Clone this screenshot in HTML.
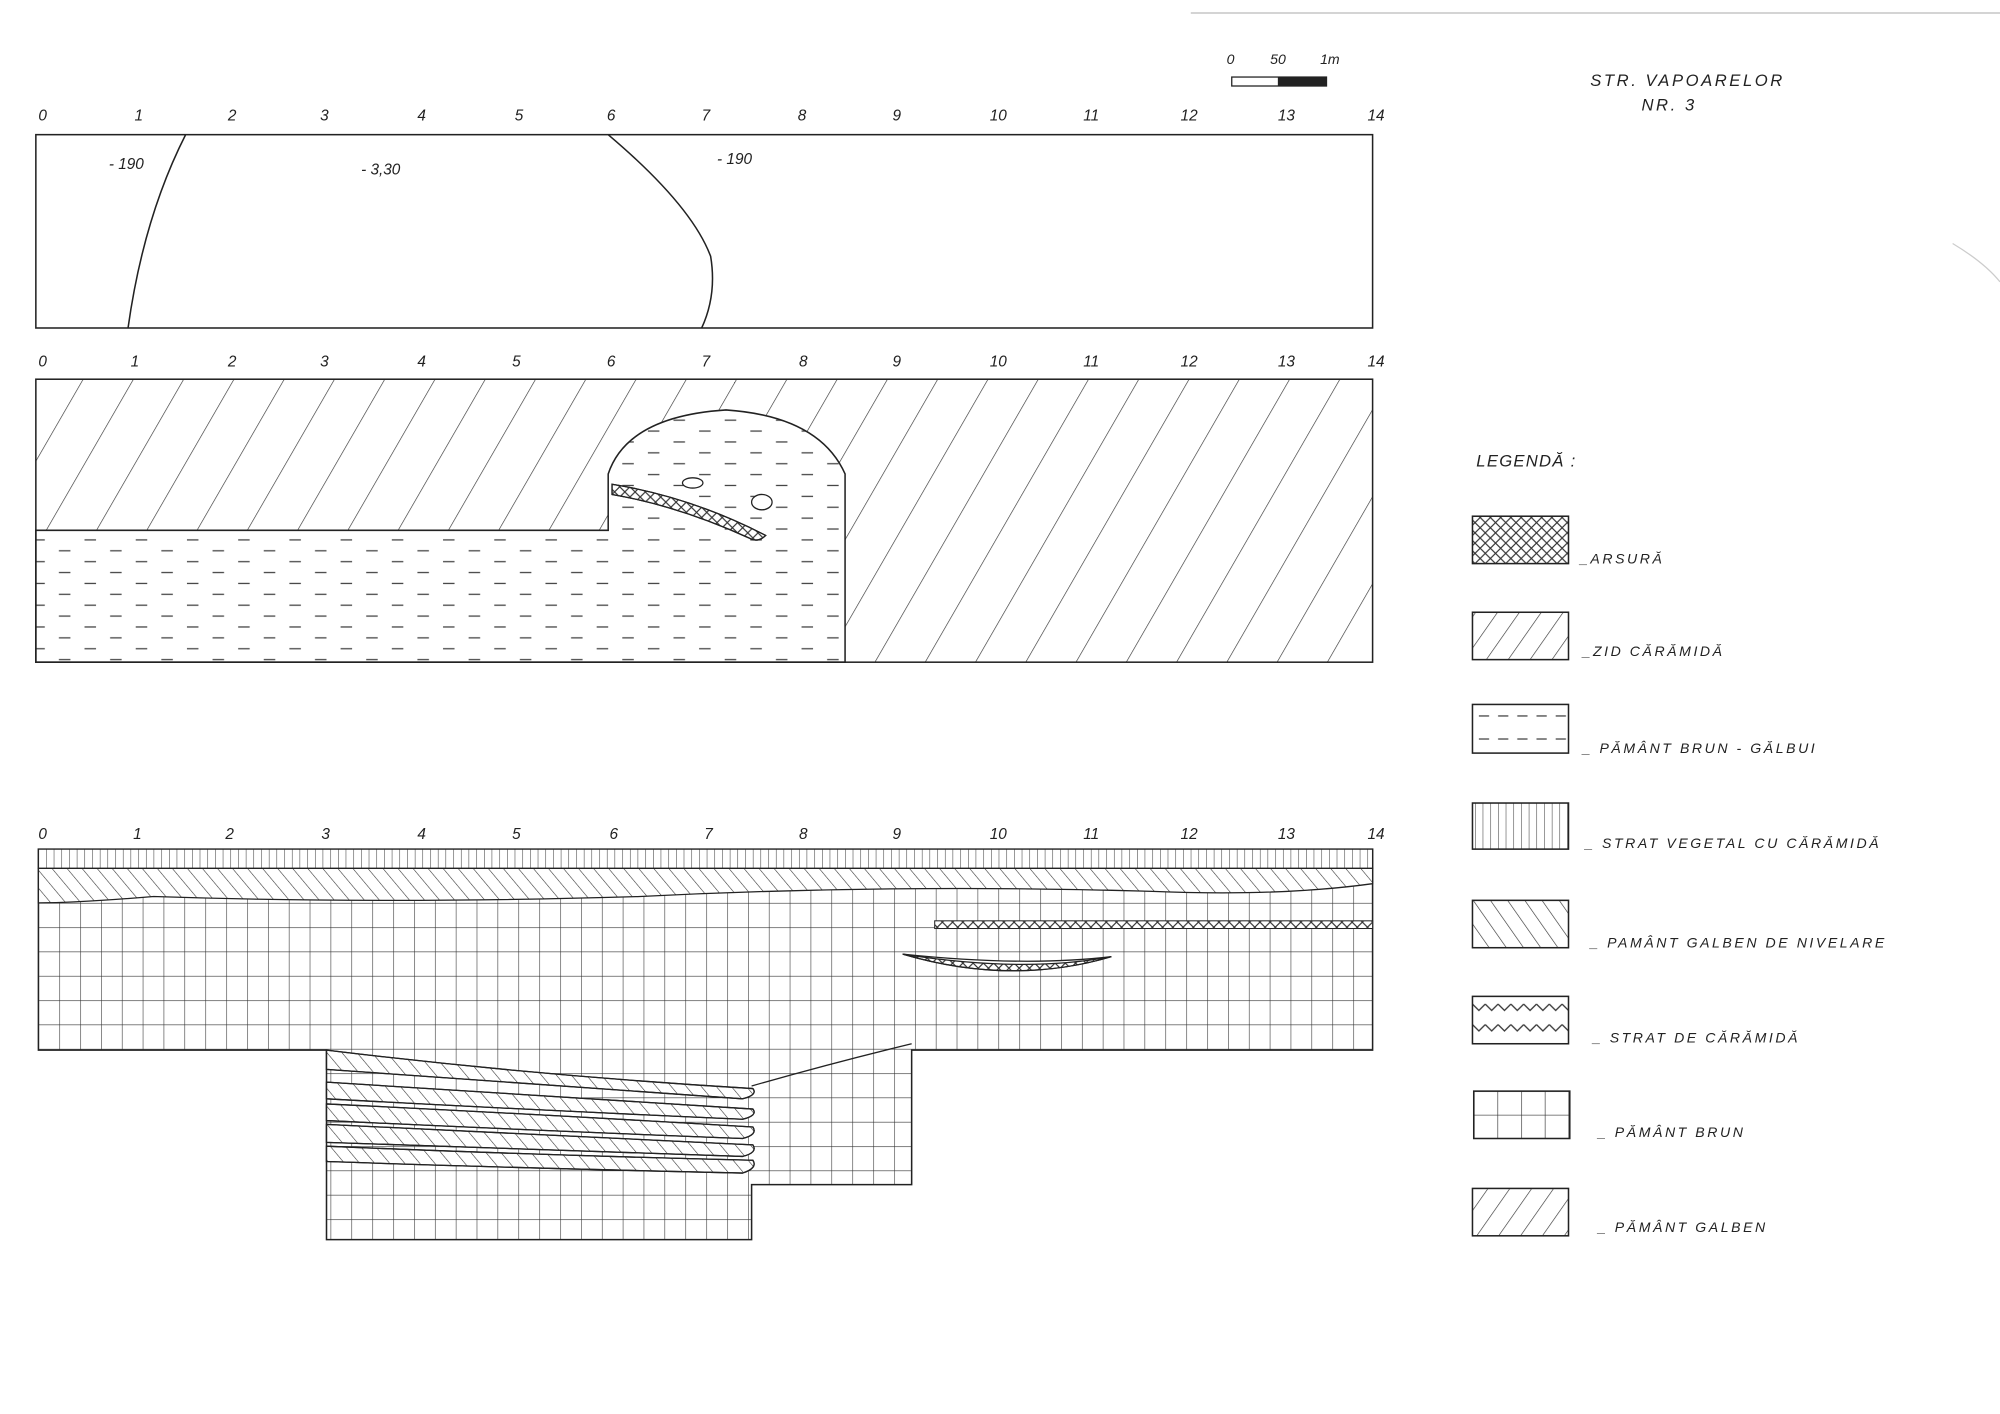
<!DOCTYPE html>
<html><head><meta charset="utf-8"><style>
html,body{margin:0;padding:0;background:#fff;}
svg{display:block}
text{font-family:"Liberation Sans",sans-serif;font-style:italic;fill:#222;}
</style></head><body>
<svg width="2000" height="1414" viewBox="0 0 1562 1104" xmlns="http://www.w3.org/2000/svg">
<defs>
<pattern id="fw" width="34" height="34" patternUnits="userSpaceOnUse" patternTransform="rotate(30)">
<line x1="0" y1="0" x2="0" y2="34" stroke="#333" stroke-width="1"/></pattern>
<pattern id="bw" width="9" height="9" patternUnits="userSpaceOnUse" patternTransform="rotate(-40)">
<line x1="0" y1="0" x2="0" y2="9" stroke="#333" stroke-width="0.9"/></pattern>
<pattern id="dash" width="40" height="17" patternUnits="userSpaceOnUse">
<line x1="6" y1="5" x2="15" y2="5" stroke="#444" stroke-width="1"/>
<line x1="26" y1="13.5" x2="35" y2="13.5" stroke="#444" stroke-width="1"/></pattern>
<pattern id="grid" width="16.3" height="19" patternUnits="userSpaceOnUse" x="30" y="705">
<path d="M0 0H16.3M0 0V19" stroke="#333" stroke-width="0.9" fill="none"/></pattern>
<pattern id="vert" width="6" height="20" patternUnits="userSpaceOnUse">
<line x1="0" y1="0" x2="0" y2="20" stroke="#333" stroke-width="0.8"/></pattern>
<pattern id="cross" width="8" height="8" patternUnits="userSpaceOnUse">
<path d="M0 0L8 8M8 0L0 8" stroke="#333" stroke-width="0.9"/></pattern>
<pattern id="zig" width="10" height="12" patternUnits="userSpaceOnUse">
<path d="M0 4L5 8L10 4" stroke="#333" fill="none" stroke-width="0.9"/></pattern>
<pattern id="lfw" width="14" height="14" patternUnits="userSpaceOnUse" patternTransform="rotate(35)">
<line x1="0" y1="0" x2="0" y2="14" stroke="#333" stroke-width="1"/></pattern>
<pattern id="lbw" width="11" height="11" patternUnits="userSpaceOnUse" patternTransform="rotate(-35)">
<line x1="0" y1="0" x2="0" y2="11" stroke="#333" stroke-width="1"/></pattern>
<pattern id="lgrid" width="18.5" height="18.5" patternUnits="userSpaceOnUse" x="1151" y="852">
<path d="M0 0H18.5M0 0V18.5" stroke="#333" fill="none"/></pattern>
<pattern id="ldash" width="30" height="18" patternUnits="userSpaceOnUse" x="1150" y="550">
<line x1="5" y1="9" x2="13" y2="9" stroke="#444"/><line x1="20" y1="9" x2="28" y2="9" stroke="#444"/></pattern>
<pattern id="lzig" width="10" height="16" patternUnits="userSpaceOnUse" x="1150" y="778">
<path d="M0 6L5 11L10 6" stroke="#333" fill="none"/></pattern>
</defs>

<line x1="930" y1="10" x2="1562" y2="10" stroke="#bbb" stroke-width="1"/>
<path d="M1525 190 Q1550 205 1562 220" stroke="#ccc" fill="none"/>

<!-- scale -->
<text x="958" y="50" font-size="11">0</text><text x="992" y="50" font-size="11">50</text><text x="1031" y="50" font-size="11">1m</text>
<rect x="962" y="60" width="74" height="7" fill="none" stroke="#222"/>
<rect x="998" y="60" width="38" height="7" fill="#222"/>
<text x="1242" y="67" font-size="13" letter-spacing="2">STR. VAPOARELOR</text>
<text x="1282" y="86" font-size="13" letter-spacing="2">NR. 3</text>

<!-- numbers -->
<g font-size="12">
<g transform="translate(0,94)">
<text x="30" y="0">0</text><text x="105" y="0">1</text><text x="178" y="0">2</text><text x="250" y="0">3</text><text x="326" y="0">4</text><text x="402" y="0">5</text><text x="474" y="0">6</text><text x="548" y="0">7</text><text x="623" y="0">8</text><text x="697" y="0">9</text><text x="773" y="0">10</text><text x="846" y="0">11</text><text x="922" y="0">12</text><text x="998" y="0">13</text><text x="1068" y="0">14</text></g>
<g transform="translate(0,286)">
<text x="30" y="0">0</text><text x="102" y="0">1</text><text x="178" y="0">2</text><text x="250" y="0">3</text><text x="326" y="0">4</text><text x="400" y="0">5</text><text x="474" y="0">6</text><text x="548" y="0">7</text><text x="624" y="0">8</text><text x="697" y="0">9</text><text x="773" y="0">10</text><text x="846" y="0">11</text><text x="922" y="0">12</text><text x="998" y="0">13</text><text x="1068" y="0">14</text></g>
<g transform="translate(0,655)">
<text x="30" y="0">0</text><text x="104" y="0">1</text><text x="176" y="0">2</text><text x="251" y="0">3</text><text x="326" y="0">4</text><text x="400" y="0">5</text><text x="476" y="0">6</text><text x="550" y="0">7</text><text x="624" y="0">8</text><text x="697" y="0">9</text><text x="773" y="0">10</text><text x="846" y="0">11</text><text x="922" y="0">12</text><text x="998" y="0">13</text><text x="1068" y="0">14</text></g>
</g>

<!-- panel 1 -->
<rect x="28" y="105" width="1044" height="151" fill="none" stroke="#222" stroke-width="1.2"/>
<path d="M145 105 Q112 170 100 256" fill="none" stroke="#222" stroke-width="1.2"/>
<path d="M475 105 Q540 160 555 200 Q560 230 548 256" fill="none" stroke="#222" stroke-width="1.2"/>
<g font-size="12"><text x="85" y="132">- 190</text><text x="282" y="136">- 3,30</text><text x="560" y="128">- 190</text></g>

<!-- panel 2 -->
<rect x="28" y="296" width="1044" height="221" fill="url(#fw)"/>
<path d="M28 414H475V370Q490 325 567 320Q640 325 660 370V517H28Z" fill="#fff"/>
<path d="M28 414H475V370Q490 325 567 320Q640 325 660 370V517H28Z" fill="url(#dash)" stroke="#222" stroke-width="1.2"/>
<rect x="28" y="296" width="1044" height="221" fill="none" stroke="#222" stroke-width="1.2"/>
<path d="M478 378Q540 388 598 418Q592 424 585 420Q530 395 478 386Z" fill="#fff" stroke="#222"/>
<path d="M478 378Q540 388 598 418Q592 424 585 420Q530 395 478 386Z" fill="url(#cross)" stroke="#222"/>
<ellipse cx="541" cy="377" rx="8" ry="4" fill="#fff" stroke="#222"/>
<ellipse cx="595" cy="392" rx="8" ry="6" fill="#fff" stroke="#222"/>

<!-- panel 3 -->
<path d="M30 663H1072V820H712V925H587V968H255V820H30Z" fill="url(#grid)" stroke="#222" stroke-width="1.2"/>
<rect x="30" y="663" width="1042" height="15" fill="#fff"/>
<rect x="30" y="663" width="1042" height="15" fill="url(#vert)" stroke="#222"/>
<path d="M30 678H1072V690Q1000 700 900 696Q700 690 500 700Q300 706 120 700Q60 705 30 705Z" fill="#fff"/>
<path d="M30 678H1072V690Q1000 700 900 696Q700 690 500 700Q300 706 120 700Q60 705 30 705Z" fill="url(#bw)" stroke="#222"/>
<rect x="730" y="719" width="342" height="6" fill="#fff" stroke="#222" stroke-width="0.8"/>
<rect x="730" y="719" width="342" height="6" fill="url(#cross)"/>
<path d="M705 745Q790 770 868 747Q800 755 705 745Z" fill="#fff" stroke="#222"/>
<path d="M705 745Q790 770 868 747Q800 760 705 745Z" fill="url(#cross)" stroke="#222"/>
<path d="M587 848Q650 830 712 815" fill="none" stroke="#222"/>
<g stroke="#222" stroke-width="1">
<path d="M255 820Q420 840 588 850Q592 855 580 858Q400 845 255 835Z" fill="#fff"/>
<path d="M255 820Q420 840 588 850Q592 855 580 858Q400 845 255 835Z" fill="url(#bw)"/>
<path d="M255 845Q420 855 588 866Q592 871 580 874Q400 866 255 858Z" fill="#fff"/>
<path d="M255 845Q420 855 588 866Q592 871 580 874Q400 866 255 858Z" fill="url(#bw)"/>
<path d="M255 862Q420 870 588 880Q592 886 580 889Q400 882 255 875Z" fill="#fff"/>
<path d="M255 862Q420 870 588 880Q592 886 580 889Q400 882 255 875Z" fill="url(#bw)"/>
<path d="M255 878Q420 886 588 894Q592 900 580 903Q400 897 255 892Z" fill="#fff"/>
<path d="M255 878Q420 886 588 894Q592 900 580 903Q400 897 255 892Z" fill="url(#bw)"/>
<path d="M255 895Q420 902 588 906Q592 912 580 916Q400 912 255 907Z" fill="#fff"/>
<path d="M255 895Q420 902 588 906Q592 912 580 916Q400 912 255 907Z" fill="url(#bw)"/>
</g>

<!-- legend -->
<text x="1153" y="364" font-size="13" letter-spacing="1">LEGENDĂ :</text>
<g stroke="#222" stroke-width="1.2">
<rect x="1150" y="403" width="75" height="37" fill="url(#cross)"/>
<rect x="1150" y="478" width="75" height="37" fill="url(#lfw)"/>
<rect x="1150" y="550" width="75" height="38" fill="url(#ldash)"/>
<rect x="1150" y="627" width="75" height="36" fill="url(#vert)"/>
<rect x="1150" y="703" width="75" height="37" fill="url(#lbw)"/>
<rect x="1150" y="778" width="75" height="37" fill="url(#lzig)"/>
<rect x="1151" y="852" width="75" height="37" fill="url(#lgrid)"/>
<rect x="1150" y="928" width="75" height="37" fill="url(#lfw)"/>
</g>
<g font-size="11" letter-spacing="2">
<text x="1234" y="440">_ARSURĂ</text>
<text x="1236" y="512">_ZID   CĂRĂMIDĂ</text>
<text x="1236" y="588">_ PĂMÂNT  BRUN - GĂLBUI</text>
<text x="1238" y="662">_ STRAT  VEGETAL  CU  CĂRĂMIDĂ</text>
<text x="1242" y="740">_ PAMÂNT   GALBEN  DE NIVELARE</text>
<text x="1244" y="814">_ STRAT  DE   CĂRĂMIDĂ</text>
<text x="1248" y="888">_ PĂMÂNT    BRUN</text>
<text x="1248" y="962">_ PĂMÂNT    GALBEN</text>
</g>
</svg>
</body></html>
